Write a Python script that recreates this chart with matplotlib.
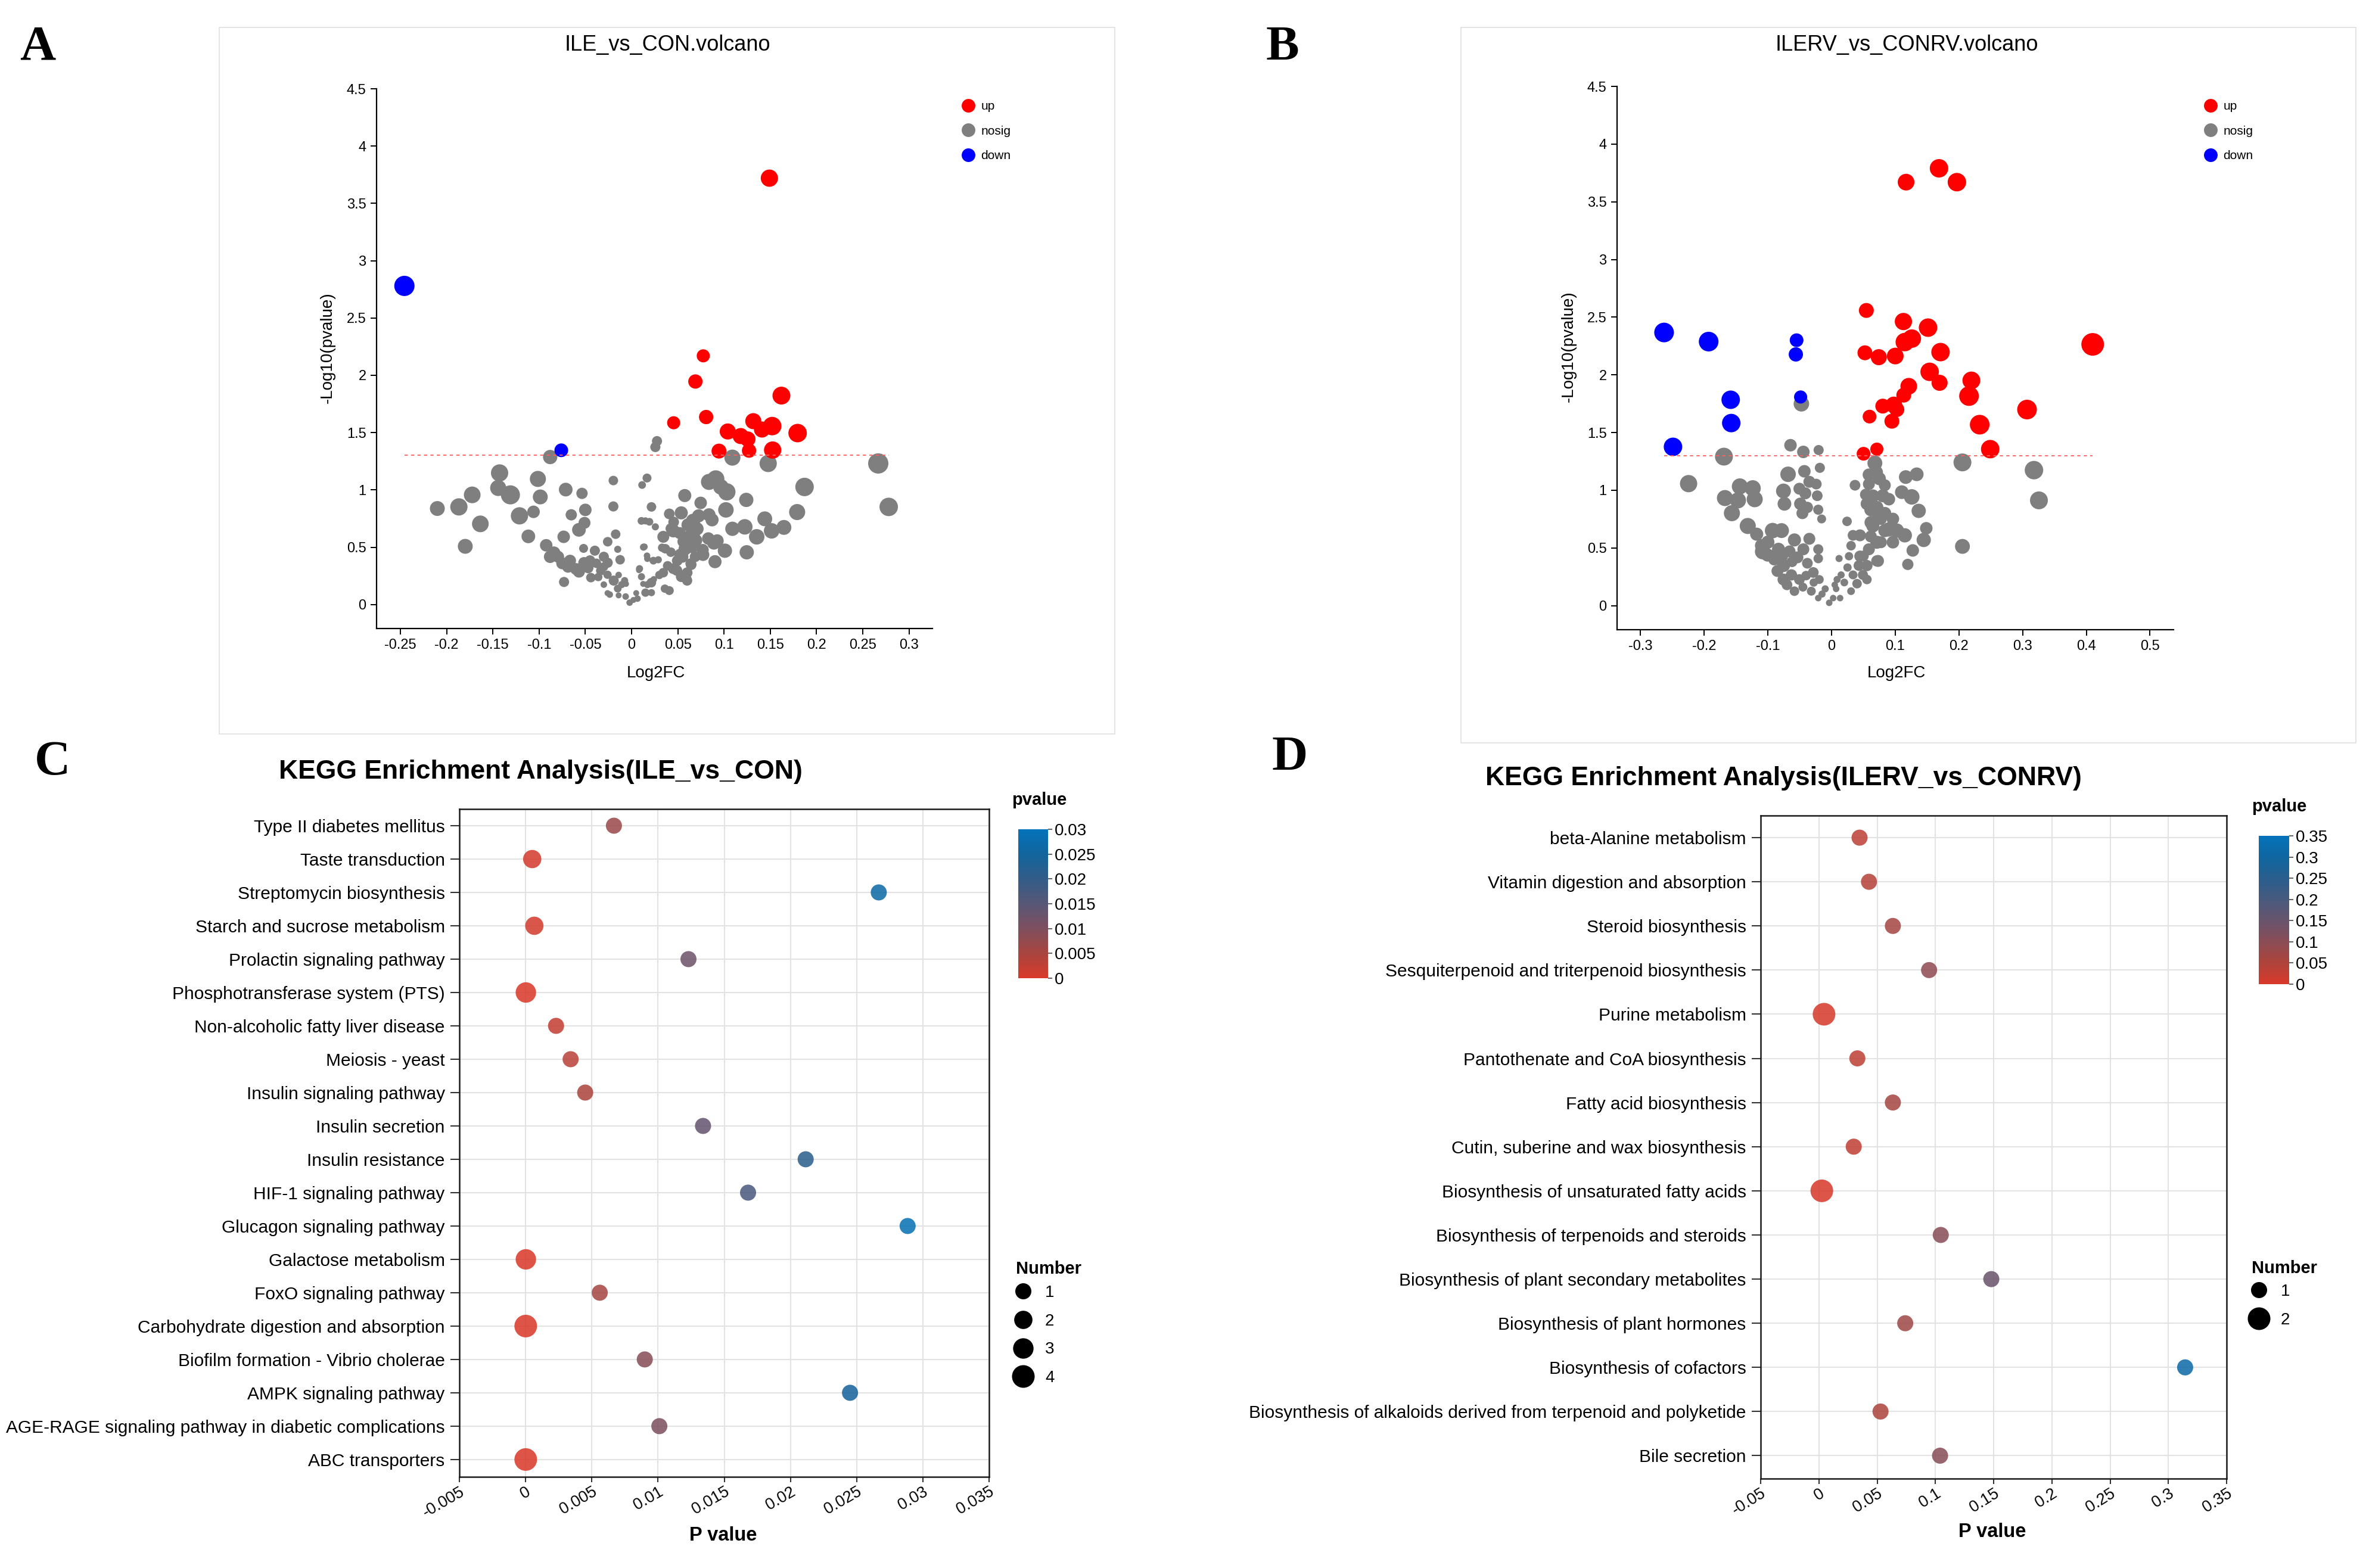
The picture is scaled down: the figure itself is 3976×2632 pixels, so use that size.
import math
import matplotlib
matplotlib.use('Agg')
import matplotlib.pyplot as plt
from matplotlib.colors import LinearSegmentedColormap, Normalize
from matplotlib.lines import Line2D
from matplotlib.patches import Rectangle

W, H = 3976, 2632
plt.rcParams['font.family'] = ['Liberation Sans', 'DejaVu Sans']

# ---------------- volcano A : ILE_vs_CON  (log2FC, -log10 p, dot diameter px)
a_up = [(0.149, 3.72, 29), (0.0775, 2.17, 22), (0.069, 1.946, 24), (0.162, 1.823, 30),
        (0.0455, 1.586, 22), (0.0806, 1.636, 24), (0.104, 1.51, 27), (0.118, 1.47, 27),
        (0.1256, 1.443, 26), (0.1316, 1.6, 27), (0.141, 1.527, 27), (0.152, 1.557, 31),
        (0.1795, 1.496, 31), (0.0945, 1.339, 25), (0.127, 1.343, 24), (0.1525, 1.348, 29)]
a_down = [(-0.2456, 2.78, 34), (-0.076, 1.346, 23)]
a_nosig = [
    (-0.088, 1.287, 24), (-0.1427, 1.148, 29), (-0.1442, 1.017, 27), (-0.131, 0.957, 32),
    (-0.1013, 1.096, 27), (-0.0987, 0.939, 25), (-0.0712, 1.003, 23), (-0.0536, 0.97, 19),
    (-0.0197, 1.082, 16), (-0.0197, 0.856, 17), (0.0167, 1.104, 15), (0.0114, 1.043, 13),
    (-0.1723, 0.957, 28), (-0.1867, 0.852, 29), (-0.21, 0.838, 25), (-0.1635, 0.704, 28),
    (-0.1798, 0.508, 25), (-0.1212, 0.774, 29), (-0.106, 0.809, 21), (-0.1116, 0.595, 23),
    (-0.0652, 0.783, 19), (-0.05, 0.826, 21), (-0.0509, 0.713, 20), (-0.0569, 0.652, 23),
    (-0.0734, 0.591, 21), (-0.0923, 0.517, 21), (-0.088, 0.417, 21), (-0.0794, 0.417, 20),
    (-0.0665, 0.383, 20), (-0.0687, 0.33, 20), (-0.0569, 0.287, 20), (-0.0515, 0.365, 19),
    (-0.045, 0.383, 18), (-0.0397, 0.47, 17), (-0.0519, 0.49, 15), (-0.03, 0.417, 17),
    (-0.0258, 0.365, 17), (-0.0333, 0.296, 16), (-0.044, 0.235, 16), (-0.03, 0.174, 11),
    (-0.073, 0.197, 17), (-0.0172, 0.614, 16), (-0.0258, 0.548, 16), (-0.015, 0.482, 12),
    (-0.0124, 0.391, 16), (0.0129, 0.501, 12), (0.0167, 0.426, 11), (0.0215, 0.852, 16),
    (0.0107, 0.73, 13), (0.0193, 0.722, 13), (0.0236, 0.383, 13), (-0.0193, 0.209, 17),
    (-0.015, 0.139, 13), (-0.0236, 0.087, 11), (-0.0064, 0.07, 11), (-0.0021, 0.017, 11),
    (0.0064, 0.052, 11), (0.0086, 0.313, 12), (0.0107, 0.243, 12), (0.0172, 0.174, 12),
    (0.0215, 0.104, 12), (-0.0107, 0.174, 12), (-0.0075, 0.209, 12),
    (-0.014, 0.258, 11), (-0.006, 0.18, 10), (0.005, 0.1, 10), (0.0125, 0.18, 10),
    (0.024, 0.22, 11), (0.008, 0.3, 10), (-0.026, 0.1, 10), (-0.014, 0.08, 10), (0.002, 0.04, 10),
    (-0.084, 0.45, 22), (-0.075, 0.36, 20), (-0.06, 0.31, 20), (-0.047, 0.32, 18),
    (-0.038, 0.36, 16), (-0.036, 0.24, 14), (-0.026, 0.26, 14), (-0.03, 0.33, 15),
    (0.0275, 1.426, 17), (0.0257, 1.374, 17), (0.109, 1.282, 27), (0.1477, 1.231, 29),
    (0.2667, 1.231, 34), (0.278, 0.852, 31), (0.187, 1.026, 31), (0.179, 0.807, 27),
    (0.124, 0.913, 24), (0.102, 0.826, 26), (0.0837, 1.07, 27), (0.091, 1.096, 29),
    (0.103, 0.983, 29), (0.0966, 1.026, 26), (0.0575, 0.951, 22), (0.0747, 0.887, 21),
    (0.0408, 0.791, 18), (0.0537, 0.8, 22), (0.0665, 0.73, 24), (0.0837, 0.783, 22),
    (0.087, 0.739, 22), (0.109, 0.661, 24), (0.1224, 0.678, 26), (0.1353, 0.591, 26),
    (0.144, 0.748, 25), (0.1514, 0.643, 26), (0.1647, 0.673, 25), (0.1245, 0.456, 24),
    (0.1009, 0.47, 24), (0.089, 0.539, 23), (0.0773, 0.435, 21), (0.0902, 0.374, 22),
    (0.0708, 0.661, 22), (0.0622, 0.591, 22), (0.0579, 0.487, 22), (0.0526, 0.435, 20),
    (0.0451, 0.643, 22), (0.0343, 0.591, 20), (0.0365, 0.487, 16), (0.0537, 0.243, 18),
    (0.0601, 0.209, 17), (0.0408, 0.122, 15), (0.0289, 0.391, 12), (0.0171, 0.4, 11),
    (0.0257, 0.678, 12), (0.015, 0.73, 12), (0.0139, 0.504, 11), (0.0451, 0.313, 18),
    (0.0343, 0.278, 16), (0.0214, 0.191, 16), (0.015, 0.104, 14), (0.0644, 0.348, 18),
    (0.0601, 0.278, 18), (0.0494, 0.383, 18), (0.0687, 0.417, 18),
    (0.0425, 0.663, 18), (0.052, 0.624, 20), (0.061, 0.695, 22), (0.0675, 0.616, 20),
    (0.0725, 0.774, 22), (0.058, 0.516, 20), (0.055, 0.417, 20), (0.064, 0.357, 18),
    (0.049, 0.298, 18), (0.039, 0.338, 16), (0.03, 0.258, 14), (0.036, 0.139, 14),
    (0.033, 0.496, 14), (0.0425, 0.457, 16), (0.06, 0.218, 16), (0.077, 0.477, 20),
    (0.083, 0.576, 21), (0.0925, 0.556, 22), (0.0455, 0.72, 18), (0.056, 0.55, 20),
    (0.066, 0.5, 20), (0.07, 0.56, 20)]

# ---------------- volcano B : ILERV_vs_CONRV
b_up = [(0.117, 3.67, 28), (0.1687, 3.79, 31), (0.1968, 3.67, 31), (0.0546, 2.558, 25),
        (0.0524, 2.191, 25), (0.0742, 2.153, 27), (0.0596, 1.638, 23), (0.0804, 1.729, 25),
        (0.0502, 1.316, 23), (0.0711, 1.356, 22), (0.1128, 2.462, 29), (0.1515, 2.409, 31),
        (0.115, 2.284, 31), (0.126, 2.314, 31), (0.1711, 2.197, 31), (0.1, 2.163, 28),
        (0.41, 2.264, 38), (0.154, 2.026, 31), (0.1696, 1.931, 27), (0.1212, 1.901, 28),
        (0.1134, 1.824, 25), (0.2195, 1.951, 30), (0.2158, 1.816, 33), (0.3069, 1.699, 33),
        (0.0978, 1.739, 28), (0.1025, 1.699, 25), (0.0947, 1.598, 25), (0.2326, 1.568, 33),
        (0.2491, 1.356, 31)]
b_down = [(-0.263, 2.367, 33), (-0.193, 2.288, 33), (-0.0549, 2.30, 23), (-0.0561, 2.177, 24),
          (-0.1584, 1.784, 31), (-0.1575, 1.582, 31), (-0.0486, 1.808, 22), (-0.249, 1.376, 31)]
b_nosig = [
    (-0.0474, 1.749, 26), (-0.169, 1.291, 30), (-0.2245, 1.057, 29), (-0.0645, 1.39, 21),
    (-0.0443, 1.332, 21), (-0.0203, 1.348, 17), (-0.0184, 1.194, 17), (-0.0683, 1.138, 26),
    (-0.0427, 1.164, 21), (-0.0349, 1.073, 20), (-0.024, 1.053, 18), (-0.0755, 0.993, 25),
    (-0.074, 0.882, 23), (-0.0505, 1.013, 20), (-0.0412, 0.973, 20), (-0.0225, 0.952, 18),
    (-0.049, 0.882, 21), (-0.038, 0.851, 19), (-0.0458, 0.801, 20), (-0.0209, 0.831, 17),
    (-0.0156, 0.751, 15), (-0.144, 1.033, 27), (-0.1238, 1.017, 27), (-0.1674, 0.932, 27),
    (-0.147, 0.912, 27), (-0.1207, 0.922, 27), (-0.1565, 0.801, 27), (-0.1316, 0.69, 27),
    (-0.1176, 0.619, 22), (-0.0926, 0.65, 26), (-0.0786, 0.65, 25), (-0.1082, 0.468, 26),
    (-0.1004, 0.438, 22), (-0.0833, 0.488, 22), (-0.0786, 0.428, 22), (-0.0583, 0.569, 22),
    (-0.0349, 0.579, 20), (-0.0209, 0.488, 17), (-0.0209, 0.408, 16), (-0.0443, 0.488, 20),
    (-0.0536, 0.418, 20), (-0.038, 0.367, 18), (-0.0755, 0.347, 22), (-0.0755, 0.226, 20),
    (-0.063, 0.266, 19), (-0.0505, 0.226, 18), (-0.0287, 0.287, 18), (-0.0193, 0.226, 15),
    (-0.0583, 0.125, 16), (-0.0318, 0.125, 15), (-0.01, 0.145, 12), (-0.0209, 0.065, 11),
    (-0.0037, 0.024, 11), (0.0025, 0.065, 11), (0.0087, 0.226, 12), (0.0072, 0.145, 11),
    (0.0134, 0.065, 11), (0.015, 0.266, 12), (0.0243, 0.73, 16), (0.0118, 0.408, 12),
    (0.0274, 0.428, 14), (0.0306, 0.519, 16), (0.0368, 1.043, 18), (0.0337, 0.609, 18),
    (0.0446, 0.609, 20), (0.0446, 0.428, 19), (0.043, 0.347, 18), (0.0493, 0.266, 17),
    (0.0337, 0.266, 15), (0.0306, 0.125, 13), (0.0586, 0.488, 20), (0.0555, 0.347, 19),
    (0.0711, 0.387, 19), (0.0555, 0.226, 16), (0.068, 1.235, 25), (0.0695, 1.154, 24),
    (0.0586, 1.134, 21), (0.0586, 1.053, 20), (0.054, 0.962, 20), (0.0555, 0.882, 21),
    (0.0617, 0.831, 22), (0.0649, 0.69, 22), (0.0804, 0.952, 22), (0.0836, 1.043, 20),
    (0.0836, 0.65, 22), (0.0711, 0.549, 22), (0.0617, 0.599, 20), (0.0711, 0.851, 22),
    (0.0742, 0.771, 22),
    (-0.1, 0.55, 22), (-0.09, 0.4, 20), (-0.085, 0.3, 20), (-0.07, 0.18, 18),
    (-0.062, 0.38, 18), (-0.045, 0.16, 15), (-0.04, 0.26, 16), (-0.066, 0.47, 20),
    (-0.11, 0.52, 22), (-0.028, 0.2, 14), (-0.015, 0.1, 12), (0.005, 0.18, 11),
    (0.02, 0.2, 13), (0.025, 0.33, 14), (0.04, 0.19, 16), (0.05, 0.43, 18),
    (0.065, 0.95, 22), (0.075, 1.1, 22), (0.062, 0.72, 22),
    (0.2055, 1.241, 30), (0.3178, 1.174, 31), (0.3256, 0.912, 30), (0.2055, 0.513, 25),
    (0.1337, 1.138, 23), (0.1165, 1.114, 23), (0.1103, 0.983, 23), (0.1259, 0.942, 26),
    (0.09, 0.922, 21), (0.1368, 0.821, 24), (0.0838, 0.801, 21), (0.0963, 0.751, 21),
    (0.0775, 0.751, 20), (0.09, 0.66, 24), (0.1025, 0.65, 24), (0.115, 0.609, 24),
    (0.1487, 0.67, 21), (0.1447, 0.569, 24), (0.0963, 0.549, 21), (0.0775, 0.549, 20),
    (0.1275, 0.478, 21), (0.0729, 0.387, 20), (0.1197, 0.357, 19)]

a_xticks = [-0.25, -0.2, -0.15, -0.1, -0.05, 0, 0.05, 0.1, 0.15, 0.2, 0.25, 0.3]
b_xticks = [-0.3, -0.2, -0.1, 0, 0.1, 0.2, 0.3, 0.4, 0.5]
volcano_yticks = [0, 0.5, 1, 1.5, 2, 2.5, 3, 3.5, 4, 4.5]
p_cut = 0.05

# ---------------- KEGG C
c_terms = ['Type II diabetes mellitus', 'Taste transduction', 'Streptomycin biosynthesis',
           'Starch and sucrose metabolism', 'Prolactin signaling pathway',
           'Phosphotransferase system (PTS)', 'Non-alcoholic fatty liver disease',
           'Meiosis - yeast', 'Insulin signaling pathway', 'Insulin secretion',
           'Insulin resistance', 'HIF-1 signaling pathway', 'Glucagon signaling pathway',
           'Galactose metabolism', 'FoxO signaling pathway',
           'Carbohydrate digestion and absorption', 'Biofilm formation - Vibrio cholerae',
           'AMPK signaling pathway', 'AGE-RAGE signaling pathway in diabetic complications',
           'ABC transporters']
c_pval = [0.00667, 0.0005, 0.02667, 0.00066, 0.0123, 0.00002, 0.0023, 0.0034, 0.0045,
          0.0134, 0.02115, 0.0168, 0.02885, 0.00002, 0.0056, 0.00001, 0.009, 0.0245,
          0.0101, 0.00001]
c_number = [1, 2, 1, 2, 1, 3, 1, 1, 1, 1, 1, 1, 1, 3, 1, 4, 1, 1, 1, 4]
c_xticks = [-0.005, 0, 0.005, 0.01, 0.015, 0.02, 0.025, 0.03, 0.035]
c_cticks = [0, 0.005, 0.01, 0.015, 0.02, 0.025, 0.03]

# ---------------- KEGG D
d_terms = ['beta-Alanine metabolism', 'Vitamin digestion and absorption',
           'Steroid biosynthesis', 'Sesquiterpenoid and triterpenoid biosynthesis',
           'Purine metabolism', 'Pantothenate and CoA biosynthesis', 'Fatty acid biosynthesis',
           'Cutin, suberine and wax biosynthesis', 'Biosynthesis of unsaturated fatty acids',
           'Biosynthesis of terpenoids and steroids',
           'Biosynthesis of plant secondary metabolites', 'Biosynthesis of plant hormones',
           'Biosynthesis of cofactors',
           'Biosynthesis of alkaloids derived from terpenoid and polyketide', 'Bile secretion']
d_pval = [0.0349, 0.043, 0.0635, 0.0946, 0.0044, 0.033, 0.0635, 0.0299, 0.0025, 0.1046,
          0.148, 0.0741, 0.3144, 0.0529, 0.104]
d_number = [1, 1, 1, 1, 2, 1, 1, 1, 2, 1, 1, 1, 1, 1, 1]
d_xticks = [-0.05, 0, 0.05, 0.1, 0.15, 0.2, 0.25, 0.3, 0.35]
d_cticks = [0, 0.05, 0.1, 0.15, 0.2, 0.25, 0.3, 0.35]

kegg_cmap = LinearSegmentedColormap.from_list(
    'kegg', ['#D9392A', '#A8453F', '#7E4F5E', '#585776', '#335C88', '#12649C', '#0473BA'])


def fx(x):
    return x / W


def fy(y):
    return 1 - y / H


def box(l, t, r, b):       # pixel box -> figure fraction rect
    return [l / W, 1 - b / H, (r - l) / W, (b - t) / H]


def msize(d):              # dot diameter in px -> scatter size (pt^2) at dpi 100
    return (d * 0.72) ** 2


def fmt(v):
    return '%g' % v


fig = plt.figure(figsize=(W / 100, H / 100), dpi=100)
fig.patch.set_facecolor('white')


def volcano(rect, xlim, xticks, up, nosig, down, title, tpos, xlpos, ylpos, leg):
    ax = fig.add_axes(rect)
    for pts, col in ((nosig, '#7F7F7F'), (up, '#FF0000'), (down, '#0000FF')):
        x, y, d = zip(*pts)
        ax.scatter(x, y, s=[msize(v) for v in d], c=col, linewidths=0, zorder=2)
    allx = [p[0] for p in up + nosig + down]
    ax.hlines(-math.log10(p_cut), min(allx), max(allx), colors='#FF5F5F',
              linestyles=(0, (3, 3)), linewidth=1.3, zorder=3)
    ax.set_xlim(*xlim)
    ax.set_ylim(-0.209, 4.5)
    ax.set_xticks(xticks)
    ax.set_xticklabels([fmt(v) for v in xticks])
    ax.set_yticks(volcano_yticks)
    ax.set_yticklabels([fmt(v) for v in volcano_yticks])
    for s in ('top', 'right'):
        ax.spines[s].set_visible(False)
    for s in ('left', 'bottom'):
        ax.spines[s].set_linewidth(1.6)
    ax.tick_params(direction='out', length=7.5, width=1.4, labelsize=17, pad=5)
    fig.text(fx(tpos[0]), fy(tpos[1]), title, ha='center', va='center', fontsize=26)
    fig.text(fx(xlpos[0]), fy(xlpos[1]), 'Log2FC', ha='center', va='center', fontsize=20)
    fig.text(fx(ylpos[0]), fy(ylpos[1]), '-Log10(pvalue)', ha='center', va='center',
             fontsize=20, rotation=90)
    handles = [Line2D([], [], ls='', marker='o', ms=16.5, mfc=c, mec='none', label=l)
               for l, c in (('up', '#FF0000'), ('nosig', '#7F7F7F'), ('down', '#0000FF'))]
    ax.legend(handles=handles, loc='upper left', bbox_to_anchor=(fx(leg[0]), fy(leg[1])),
              bbox_transform=fig.transFigure, frameon=False, fontsize=15,
              handlelength=0.8, handletextpad=0.6, labelspacing=1.09,
              borderpad=0, borderaxespad=0)
    return ax


def kegg(rect, crect, terms, pvals, numbers, xticks, cticks, title, tpos, xlpos,
         ptitle, ntitle, nleg, tick_angle):
    ax = fig.add_axes(rect)
    n = len(terms)
    ys = list(range(n - 1, -1, -1))
    lo, hi = min(numbers), max(numbers)
    dia = [27 + 11 * (v - lo) / (hi - lo) for v in numbers]
    norm = Normalize(vmin=cticks[0], vmax=cticks[-1])
    sc = ax.scatter(pvals, ys, s=[msize(d) for d in dia], c=pvals, cmap=kegg_cmap,
                    norm=norm, linewidths=0, alpha=0.86, zorder=3)
    ax.set_xlim(xticks[0], xticks[-1])
    ax.set_ylim(-0.52, n - 0.5)
    ax.set_xticks(xticks)
    ax.set_xticklabels([fmt(v) for v in xticks], rotation=tick_angle, ha='right',
                       va='top', rotation_mode='anchor')
    ax.set_yticks(ys)
    ax.set_yticklabels(terms)
    ax.grid(True, color='#E3E3E3', linewidth=1.5, zorder=0)
    ax.set_axisbelow(True)
    for s in ax.spines.values():
        s.set_linewidth(1.8)
        s.set_color('#1A1A1A')
    ax.tick_params(axis='y', direction='out', length=11, width=1.5, color='#333333',
                   labelsize=21.5, pad=6.5)
    ax.tick_params(axis='x', direction='out', length=6.5, width=1.5, color='#333333',
                   labelsize=19.5, pad=2)
    fig.text(fx(tpos[0]), fy(tpos[1]), title, ha='center', va='baseline', fontsize=32,
             fontweight='bold')
    fig.text(fx(xlpos[0]), fy(xlpos[1]), 'P value', ha='center', va='baseline',
             fontsize=23.5, fontweight='bold')

    cax = fig.add_axes(crect)
    cb = fig.colorbar(sc, cax=cax)
    cb.solids.set_alpha(1)
    cb.outline.set_visible(False)
    cb.set_ticks(cticks)
    cb.set_ticklabels([fmt(v) for v in cticks])
    cax.tick_params(length=5, width=1.3, color='#555555', labelsize=20, pad=3)
    fig.text(fx(ptitle[0]), fy(ptitle[1]), 'pvalue', ha='left', va='baseline',
             fontsize=21, fontweight='bold')
    fig.text(fx(ntitle[0]), fy(ntitle[1]), 'Number', ha='left', va='baseline',
             fontsize=21, fontweight='bold')
    levels = sorted(set(numbers))
    handles = [Line2D([], [], ls='', marker='o', mfc='black', mec='none',
                      ms=(27 + 11 * (v - lo) / (hi - lo)) * 0.72, label=str(v))
               for v in levels]
    ax.legend(handles=handles, loc='upper left', bbox_to_anchor=(fx(nleg[0]), fy(nleg[1])),
              bbox_transform=fig.transFigure, frameon=False, fontsize=20,
              handlelength=0.86, handletextpad=0.9, labelspacing=0.78,
              borderpad=0, borderaxespad=0)
    return ax


# panel frames around the two volcano plots
for l, t, r, b in ((368, 46, 1871, 1232), (2452, 46, 3954, 1247)):
    fig.patches.append(Rectangle((fx(l), fy(b)), (r - l) / W, (b - t) / H,
                                 transform=fig.transFigure, fill=False,
                                 edgecolor='#DCDCDC', linewidth=1.1))

volcano(box(632, 149, 1565, 1055), (-0.2757, 0.3253), a_xticks, a_up, a_nosig, a_down,
        'ILE_vs_CON.volcano', (1120, 75), (1101, 1130), (550, 584), (1617, 169))
volcano(box(2714, 145, 3648, 1057), (-0.3368, 0.537), b_xticks, b_up, b_nosig, b_down,
        'ILERV_vs_CONRV.volcano', (3200, 75), (3183, 1130), (2633, 582), (3702, 169))

kegg(box(771, 1358, 1660, 2479), box(1709, 1392, 1759, 1642), c_terms, c_pval, c_number,
     c_xticks, c_cticks, 'KEGG Enrichment Analysis(ILE_vs_CON)', (907, 1307), (1214, 2586),
     (1698, 1351), (1705, 2138), (1705, 2157), 30)
kegg(box(2955, 1369, 3737, 2482), box(3791, 1403, 3842, 1652), d_terms, d_pval, d_number,
     d_xticks, d_cticks, 'KEGG Enrichment Analysis(ILERV_vs_CONRV)', (2993, 1318),
     (3344, 2580), (3779, 1362), (3779, 2137), (3779, 2155), 32)

for lab, x, y in (('A', 33, 100), ('B', 2125, 100), ('C', 58, 1300), ('D', 2135, 1292)):
    fig.text(fx(x), fy(y), lab, ha='left', va='baseline', fontsize=60, fontweight='bold',
             family=['Liberation Serif', 'DejaVu Serif'])

fig.savefig('out.png', dpi=100, facecolor='white')
